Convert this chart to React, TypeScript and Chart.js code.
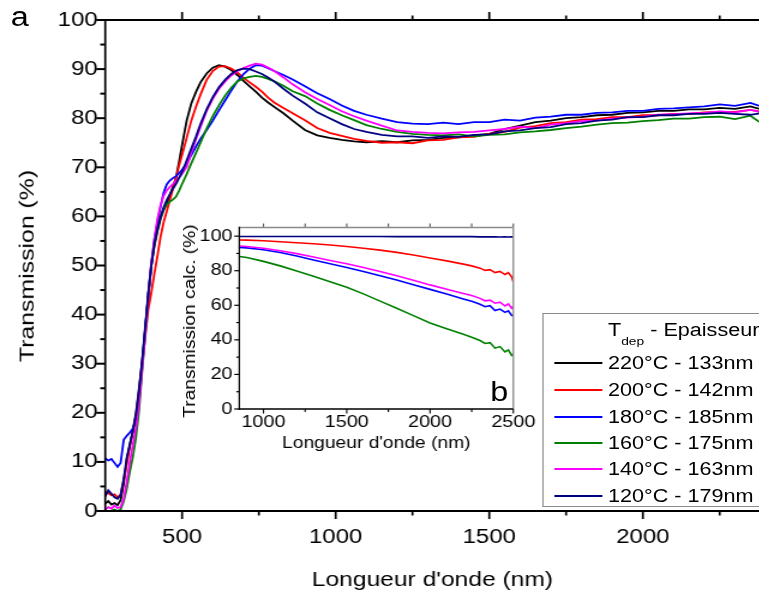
import React, { useEffect, useRef } from 'react';
import { Chart, registerables } from 'chart.js';

Chart.register(...registerables);

const FONT = "'Liberation Sans', Arial, sans-serif";
const SX = 1.2; // text and figure are rendered horizontally widened
const CW = 633;
const CH = 594;

// ---------- main plot data ----------
const WL = [250, 260, 270, 280, 290, 300, 310, 320, 330, 340, 350, 360, 370, 380, 390, 400, 410, 420, 430, 440, 450, 460, 470, 480, 490, 500,
  515, 530, 545, 560,
  580, 600, 620, 640, 660, 680, 700, 720, 740, 760, 780, 800,
  830, 860, 900, 940, 980, 1020, 1060, 1100,
  1150, 1200, 1250, 1300, 1350, 1400, 1450, 1500, 1550, 1600, 1650, 1700, 1750, 1800, 1850, 1900, 1950, 2000, 2050, 2100, 2150, 2200, 2250, 2300, 2350,
  2380];

const T220 = [1.5, 2.0, 1.3, 1.6, 1.2, 2.2, 5.5, 10.5, 13.5, 16.5, 20.0, 25.0, 30.5, 37.0, 44.0, 50.0, 54.0, 57.0, 59.5, 61.3, 62.5, 64.2, 66.0, 67.8, 71.0, 74.5,
  79.5, 83.0, 85.3, 87.3,
  89.1, 90.3, 90.8, 90.5, 89.8, 88.8, 87.6, 86.5, 85.4, 84.2, 83.2, 82.3,
  81.0, 79.5, 77.6, 76.5, 76.0, 75.6, 75.3, 75.1,
  75.3, 75.1, 75.5, 75.6, 76.0, 76.1, 76.5, 76.8, 77.8, 78.5, 79.2, 79.5, 80.0, 80.2, 80.6, 80.7, 81.1, 81.2, 81.5, 81.5, 81.8, 81.8, 82.1, 81.9, 82.4,
  81.9];

const T200 = [4.0, 3.6, 3.2, 3.4, 2.8, 3.3, 6.3, 9.5, 13.1, 16.2, 19.2, 24.0, 30.0, 35.5, 41.0, 44.5, 48.4, 52.0, 55.9, 58.8, 61.0, 63.3, 65.5, 67.8, 70.3, 72.5,
  76.0, 79.5, 82.3, 84.8,
  87.8, 89.6, 90.5, 90.6, 90.1, 89.3, 88.2, 87.3, 86.4, 85.4, 84.2, 83.2,
  82.1, 81.0, 79.6, 78.0, 77.0, 76.4, 75.8, 75.4,
  75.0, 75.1, 74.9, 75.5, 75.6, 76.1, 76.2, 76.8, 77.2, 78.1, 78.4, 79.0, 79.2, 79.7, 79.8, 80.2, 80.2, 80.6, 80.6, 80.9, 80.9, 81.2, 81.3, 81.3, 81.7,
  81.4];

const T180 = [10.7, 10.3, 10.6, 9.8, 9.0, 9.8, 14.5, 15.3, 16.0, 16.8, 18.5, 23.0, 29.4, 37.0, 43.6, 50.0, 55.2, 59.0, 62.0, 64.8, 66.5, 67.3, 67.8, 68.2, 68.8, 69.5,
  70.8, 72.5, 74.2, 75.8,
  77.6, 79.5, 81.6, 83.6, 85.6, 87.5, 89.0, 90.1, 90.8, 90.7, 90.2, 89.6,
  88.8, 87.9, 86.5, 85.1, 83.9, 82.6, 81.5, 80.7,
  79.9, 79.2, 78.9, 78.8, 79.1, 78.8, 79.2, 79.2, 79.7, 79.5, 80.1, 80.3, 80.7, 80.7, 81.1, 81.2, 81.5, 81.5, 81.9, 82.0, 82.2, 82.4, 82.8, 82.5, 83.1,
  82.5];

const T160 = [0.0, 0.0, 0.1, 0.3, 0.0, 0.3, 2.0, 4.5, 8.0, 11.1, 15.0, 20.5, 28.5, 36.0, 44.3, 50.5, 54.5, 57.8, 60.0, 61.5, 62.4, 63.0, 63.4, 64.0, 65.2, 66.6,
  68.6, 70.8, 72.9, 75.0,
  77.9, 80.4, 82.6, 84.6, 86.2, 87.5, 88.1, 88.4, 88.6, 88.4, 88.0, 87.5,
  86.6, 85.5, 84.5, 83.0, 81.7, 80.6, 79.6, 78.6,
  77.8, 77.2, 76.8, 76.6, 76.5, 76.7, 76.3, 76.6, 76.7, 77.1, 77.3, 77.6, 78.0, 78.3, 78.7, 79.0, 79.1, 79.4, 79.6, 79.9, 79.9, 80.2, 80.3, 79.8, 80.5,
  79.2];

const T140 = [0.3, 0.8, 0.5, 1.1, 0.6, 0.8, 2.5, 6.0, 10.0, 13.5, 17.0, 22.0, 29.0, 36.0, 44.0, 50.5, 55.5, 59.5, 62.3, 64.2, 65.3, 66.0, 66.6, 67.2, 67.9, 68.7,
  70.1, 73.0, 75.7, 78.2,
  81.5, 84.0, 86.0, 87.5, 88.7, 89.6, 90.2, 90.7, 91.1, 90.9, 90.3, 89.6,
  88.3, 86.9, 85.3, 83.9, 82.7, 81.4, 80.4, 79.5,
  78.5, 77.5, 77.2, 77.0, 76.9, 77.1, 77.2, 77.5, 77.8, 78.3, 78.0, 78.7, 79.0, 79.4, 79.5, 79.9, 80.1, 80.3, 80.7, 80.8, 81.0, 81.1, 81.4, 81.2, 81.7,
  81.3];

const T120 = [3.0, 4.2, 3.5, 2.8, 2.5, 3.3, 6.5, 10.8, 13.5, 16.3, 19.5, 24.5, 30.5, 37.5, 44.3, 50.0, 54.5, 57.5, 60.0, 61.8, 63.3, 64.5, 65.6, 66.6, 67.8, 69.0,
  71.4, 73.8, 76.2, 78.8,
  81.8, 84.3, 86.3, 87.8, 89.0, 89.8, 90.1, 90.0, 89.5, 89.0, 88.3, 87.5,
  86.0, 84.6, 83.0, 81.2, 80.0, 78.8, 77.8, 77.2,
  76.6, 76.3, 76.3, 76.0, 76.3, 76.2, 76.6, 76.7, 77.3, 77.5, 78.0, 78.2, 78.8, 79.0, 79.5, 79.7, 80.2, 80.2, 80.6, 80.6, 80.9, 80.9, 81.1, 80.9, 80.7,
  81.0];

// ---------- inset data ----------
const IWL = [855, 900, 1000, 1100, 1200, 1300, 1400, 1500, 1600, 1700, 1800, 1900, 2000, 2100, 2200, 2250, 2300, 2330, 2360, 2390, 2420, 2450, 2470, 2490, 2500];
const I200 = [97.8, 97.7, 97.3, 96.8, 96.2, 95.6, 94.9, 94.0, 93.0, 91.9, 90.6, 89.1, 87.4, 85.7, 83.8, 82.8, 81.5, 80.2, 80.6, 78.9, 79.6, 77.8, 78.9, 76.5, 73.5];
const I180 = [93.5, 93.2, 92.1, 90.5, 88.5, 86.2, 84.0, 81.9, 79.6, 77.1, 74.6, 71.9, 69.2, 66.5, 63.7, 62.3, 60.6, 59.2, 59.8, 57.0, 57.8, 55.9, 56.8, 54.2, 53.8];
const I160 = [88.2, 87.6, 85.4, 82.8, 79.9, 76.8, 73.6, 70.4, 66.6, 62.4, 58.3, 54.0, 49.8, 46.4, 43.2, 41.5, 39.6, 37.9, 38.4, 35.2, 36.1, 33.0, 34.2, 31.0, 31.8];
const I140 = [94.3, 94.0, 93.0, 91.6, 89.9, 87.9, 85.9, 84.0, 81.8, 79.5, 77.1, 74.5, 71.8, 69.3, 66.8, 65.6, 64.0, 62.6, 63.0, 61.2, 61.8, 59.6, 60.8, 58.3, 59.5];
const I120 = [99.8, 99.8, 99.8, 99.8, 99.8, 99.8, 99.8, 99.8, 99.8, 99.8, 99.7, 99.7, 99.7, 99.7, 99.7, 99.7, 99.6, 99.6, 99.6, 99.6, 99.5, 99.6, 99.5, 99.6, 99.5];

// ---------- legend / series ----------
const LABELS = ['220°C - 133nm', '200°C - 142nm', '180°C - 185nm', '160°C - 175nm', '140°C - 163nm', '120°C - 179nm'];
const COLORS = ['#000000', '#ff0000', '#0000ff', '#008000', '#ff00ff', '#000080'];
const MAIN_SERIES = [T220, T200, T180, T160, T140, T120];
const INSET_SERIES: (number[] | null)[] = [null, I200, I180, I160, I140, I120];

// ---------- axis ticks ----------
const MAIN_X_MAJOR = [500, 1000, 1500, 2000];
const MAIN_X_MINOR = [750, 1250, 1750, 2250];
const MAIN_Y_MAJOR = [0, 10, 20, 30, 40, 50, 60, 70, 80, 90, 100];
const MAIN_Y_MINOR = [5, 15, 25, 35, 45, 55, 65, 75, 85, 95];
const INSET_X_MAJOR = [1000, 1500, 2000, 2500];
const INSET_X_MINOR = [1250, 1750, 2250];
const INSET_Y_MAJOR = [0, 20, 40, 60, 80, 100];
const INSET_Y_MINOR = [10, 30, 50, 70, 90];

interface FrameCfg {
  xMajor: number[]; xMinor: number[]; yMajor: number[]; yMinor: number[];
  xMajorLen: number; xMinorLen: number; yMajorLen: number; yMinorLen: number;
  topMajorLen: number; topMinorLen: number;
  tickHW: number; tickVW: number;
  axisHW: number; axisVW: number;
  left: string; bottom: string; top: string | null; right: string | null;
  topTicks: string | null;
}

function makeFrame(cfg: FrameCfg) {
  return {
    id: 'frame',
    afterDatasetsDraw(chart: any) {
      const { ctx, chartArea: a, scales } = chart;
      const xs = scales.x;
      const ys = scales.y;
      ctx.save();
      ctx.lineCap = 'butt';
      const h = (x1: number, x2: number, y: number, c: string, w: number) => {
        ctx.strokeStyle = c; ctx.lineWidth = w; ctx.beginPath(); ctx.moveTo(x1, y); ctx.lineTo(x2, y); ctx.stroke();
      };
      const v = (x: number, y1: number, y2: number, c: string, w: number) => {
        ctx.strokeStyle = c; ctx.lineWidth = w; ctx.beginPath(); ctx.moveTo(x, y1); ctx.lineTo(x, y2); ctx.stroke();
      };
      cfg.xMajor.forEach((val) => {
        const px = xs.getPixelForValue(val);
        v(px, a.bottom, a.bottom + cfg.xMajorLen, cfg.bottom, cfg.tickVW);
        if (cfg.topTicks) v(px, a.top - cfg.topMajorLen, a.top, cfg.topTicks, cfg.tickVW);
      });
      cfg.xMinor.forEach((val) => {
        const px = xs.getPixelForValue(val);
        v(px, a.bottom, a.bottom + cfg.xMinorLen, cfg.bottom, cfg.tickVW);
        if (cfg.topTicks) v(px, a.top - cfg.topMinorLen, a.top, cfg.topTicks, cfg.tickVW);
      });
      cfg.yMajor.forEach((val) => {
        const py = ys.getPixelForValue(val);
        h(a.left - cfg.yMajorLen, a.left, py, cfg.left, cfg.tickHW);
      });
      cfg.yMinor.forEach((val) => {
        const py = ys.getPixelForValue(val);
        h(a.left - cfg.yMinorLen, a.left, py, cfg.left, cfg.tickHW);
      });
      if (cfg.top) h(a.left, a.right, a.top, cfg.top, cfg.axisHW);
      if (cfg.right) v(a.right, a.top, a.bottom, cfg.right, cfg.axisVW);
      h(a.left - cfg.axisVW / 2, a.right, a.bottom, cfg.bottom, cfg.axisHW);
      v(a.left, a.top - cfg.axisHW / 2, a.bottom + cfg.axisHW / 2, cfg.left, cfg.axisVW);
      ctx.restore();
    },
  };
}

const setTicks = (values: number[]) => (s: any) => {
  s.ticks = values.map((value) => ({ value }));
};
const plainLabel = (v: any) => String(v);

function mainConfig(): any {
  const datasets = MAIN_SERIES.map((arr, i) => ({
    label: LABELS[i],
    data: WL.map((x, j) => ({ x, y: arr[j] })),
    borderColor: COLORS[i],
    borderWidth: 1.8,
    pointRadius: 0,
    fill: false,
    tension: 0,
    order: MAIN_SERIES.length - i,
  }));
  return {
    type: 'line',
    data: { datasets },
    plugins: [makeFrame({
      xMajor: MAIN_X_MAJOR, xMinor: MAIN_X_MINOR, yMajor: MAIN_Y_MAJOR, yMinor: MAIN_Y_MINOR,
      xMajorLen: 8, xMinorLen: 4.5, yMajorLen: 7.5, yMinorLen: 4.2,
      topMajorLen: 8, topMinorLen: 4.5,
      tickHW: 2, tickVW: 1.7, axisHW: 2, axisVW: 1.7,
      left: '#000', bottom: '#000', top: '#000', right: null, topTicks: '#000',
    })],
    options: {
      animation: false,
      responsive: false,
      maintainAspectRatio: false,
      layout: { padding: { top: 20, right: 0, left: 0, bottom: 0 } },
      plugins: { legend: { display: false }, tooltip: { enabled: false } },
      scales: {
        x: {
          type: 'linear', position: 'bottom', min: 250, max: 2380,
          grid: { display: false, drawTicks: false }, border: { display: false },
          afterBuildTicks: setTicks(MAIN_X_MAJOR),
          ticks: { autoSkip: false, maxRotation: 0, padding: 14.5, color: '#000', font: { family: FONT, size: 20 }, callback: plainLabel },
          title: { display: true, text: "Longueur d'onde (nm)", color: '#000', font: { family: FONT, size: 20.5 }, padding: { top: 0, bottom: 1.7 } },
          afterFit: (s: any) => { s.height = 83; },
        },
        y: {
          type: 'linear', min: 0, max: 100,
          grid: { display: false, drawTicks: false }, border: { display: false },
          afterBuildTicks: setTicks(MAIN_Y_MAJOR),
          ticks: { autoSkip: false, padding: 6.3, color: '#000', font: { family: FONT, size: 20 }, callback: plainLabel },
          afterFit: (s: any) => { s.width = 87.7; },
        },
      },
    },
  };
}

function insetConfig(): any {
  const datasets: any[] = [];
  INSET_SERIES.forEach((arr, i) => {
    if (!arr) return;
    datasets.push({
      label: LABELS[i],
      data: IWL.map((x, j) => ({ x, y: arr[j] })),
      borderColor: COLORS[i],
      borderWidth: 1.6,
      pointRadius: 0,
      fill: false,
      tension: 0,
      order: INSET_SERIES.length - i,
    });
  });
  return {
    type: 'line',
    data: { datasets },
    plugins: [makeFrame({
      xMajor: INSET_X_MAJOR, xMinor: INSET_X_MINOR, yMajor: INSET_Y_MAJOR, yMinor: INSET_Y_MINOR,
      xMajorLen: 4.5, xMinorLen: 3, yMajorLen: 4.2, yMinorLen: 2.5,
      topMajorLen: 4, topMinorLen: 4,
      tickHW: 1.2, tickVW: 1.1, axisHW: 1.5, axisVW: 1.3,
      left: '#000', bottom: '#000', top: '#8a8a8a', right: '#8a8a8a', topTicks: '#555',
    })],
    options: {
      animation: false,
      responsive: false,
      maintainAspectRatio: false,
      layout: { padding: { top: 12, right: 22.25, left: 0, bottom: 0 } },
      plugins: { legend: { display: false }, tooltip: { enabled: false } },
      scales: {
        x: {
          type: 'linear', position: 'bottom', min: 855, max: 2500,
          grid: { display: false, drawTicks: false }, border: { display: false },
          afterBuildTicks: setTicks(INSET_X_MAJOR),
          ticks: { autoSkip: false, maxRotation: 0, padding: 3.6, color: '#000', font: { family: FONT, size: 16.5 }, callback: plainLabel },
          title: { display: true, text: "Longueur d'onde (nm)", color: '#000', font: { family: FONT, size: 16 }, padding: { top: 0, bottom: 8.9 } },
          afterFit: (s: any) => { s.height = 53; },
        },
        y: {
          type: 'linear', min: 0, max: 105,
          grid: { display: false, drawTicks: false }, border: { display: false },
          afterBuildTicks: setTicks(INSET_Y_MAJOR),
          ticks: { autoSkip: false, padding: 5.6, color: '#000', font: { family: FONT, size: 16.5 }, callback: plainLabel },
          afterFit: (s: any) => { s.width = 59.4; },
        },
      },
    },
  };
}

const INSET_LEFT = 140;
const INSET_TOP = 212;
const INSET_W = 310;
const INSET_H = 250;

const LEG_LEFT = 452.25;
const LEG_TOP = 312.7;
const LEG_H = 194.6;
const LEG_ROWS = [49.6, 76.3, 103, 129.3, 155.3, 182];

export default function App() {
  const mainRef = useRef<HTMLCanvasElement>(null);
  const insetRef = useRef<HTMLCanvasElement>(null);

  useEffect(() => {
    const c1 = new Chart(mainRef.current as HTMLCanvasElement, mainConfig());
    const c2 = new Chart(insetRef.current as HTMLCanvasElement, insetConfig());
    return () => { c1.destroy(); c2.destroy(); };
  }, []);

  return (
    <div style={{ position: 'absolute', left: 0, top: 0, width: 759, height: 594, overflow: 'hidden', background: '#fff', fontFamily: FONT, color: '#000' }}>
      <div style={{ position: 'absolute', left: 0, top: 0, width: CW, height: CH, transform: `scaleX(${SX})`, transformOrigin: '0 0' }}>
        <canvas ref={mainRef} width={CW} height={CH} style={{ position: 'absolute', left: 0, top: 0, width: CW, height: CH }} />
        <canvas ref={insetRef} width={INSET_W} height={INSET_H} style={{ position: 'absolute', left: INSET_LEFT, top: INSET_TOP, width: INSET_W, height: INSET_H }} />
        <div style={{ position: 'absolute', left: 9, top: 4.1, fontSize: 27, lineHeight: '27px' }}>a</div>
        <div style={{ position: 'absolute', left: 408.5, top: 379.1, fontSize: 27, lineHeight: '27px' }}>b</div>
        <div style={{ position: 'absolute', left: LEG_LEFT, top: LEG_TOP, width: CW - LEG_LEFT + 10, height: LEG_H, border: '1.5px solid #8a8a8a', boxSizing: 'border-box', background: '#fff' }}>
          <div style={{ position: 'absolute', left: 53.4, top: 329 - LEG_TOP - 10, fontSize: 18, lineHeight: '20px', whiteSpace: 'nowrap' }}>
            T<span style={{ fontSize: 11.5, position: 'relative', top: 9 }}>dep</span> - Epaisseur
          </div>
          {LABELS.map((lab, i) => (
            <React.Fragment key={lab}>
              <div style={{ position: 'absolute', left: 8.6, top: LEG_ROWS[i] - 1, width: 40, height: 2, background: COLORS[i] }} />
              <div style={{ position: 'absolute', left: 53.4, top: LEG_ROWS[i] - 10, fontSize: 18, lineHeight: '20px', whiteSpace: 'nowrap' }}>{lab}</div>
            </React.Fragment>
          ))}
        </div>
      </div>
      <div style={{ position: 'absolute', left: 27, top: 265.5, fontSize: 20.7, lineHeight: 1, whiteSpace: 'nowrap', transform: `translate(-50%, -50%) rotate(-90deg) scaleX(${SX})` }}>Transmission (%)</div>
      <div style={{ position: 'absolute', left: 190.3, top: 320.5, fontSize: 16, lineHeight: 1, whiteSpace: 'nowrap', transform: `translate(-50%, -50%) rotate(-90deg) scaleX(${SX})` }}>Transmission calc. (%)</div>
    </div>
  );
}
